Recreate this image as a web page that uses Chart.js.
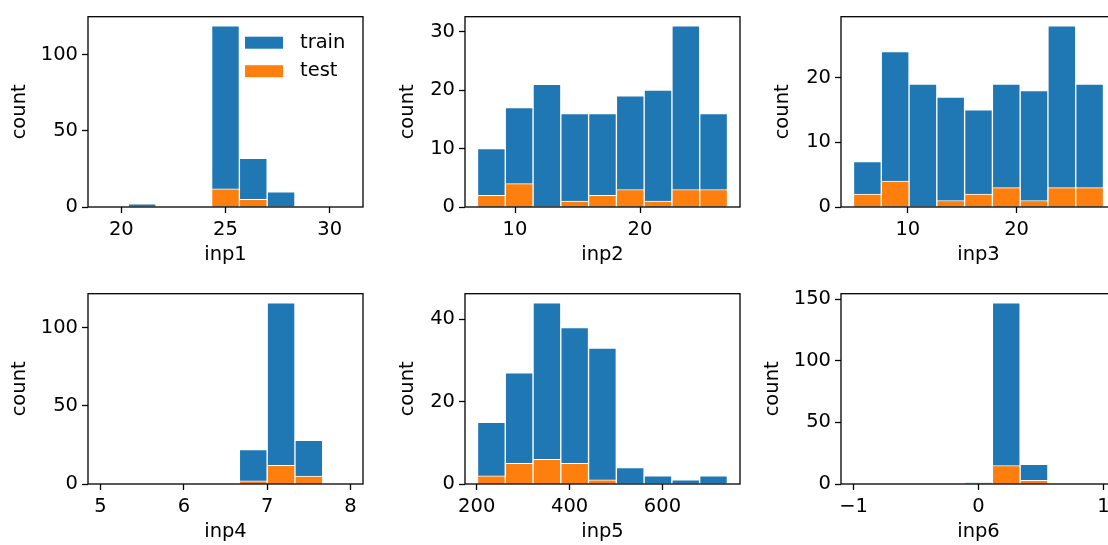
<!DOCTYPE html>
<html>
<head>
<meta charset="utf-8">
<script src="https://cdn.jsdelivr.net/npm/chart.js@4.4.0/dist/chart.umd.min.js"></script>
<style>
  html, body { margin: 0; padding: 0; background: #fff; overflow: hidden; }
  body { width: 1108px; height: 545px; position: relative; }
  .panel { position: absolute; width: 375px; height: 270px; }
</style>
</head>
<body>
<div class="panel" style="left:0px;top:1px"><canvas id="h1"></canvas></div>
<div class="panel" style="left:377px;top:1px"><canvas id="h2"></canvas></div>
<div class="panel" style="left:753px;top:1px"><canvas id="h3"></canvas></div>
<div class="panel" style="left:0px;top:278px"><canvas id="h4"></canvas></div>
<div class="panel" style="left:377px;top:278px"><canvas id="h5"></canvas></div>
<div class="panel" style="left:753px;top:278px"><canvas id="h6"></canvas></div>
<script>
// bin centres, counts per bin, tick labels
var binsInp1 = [19.667, 21, 22.333, 23.667, 25, 26.333, 27.667, 29, 30.333];
var trainInp1 = [0, 2, 0, 0, 119, 32, 10, 0, 0];
var testInp1 = [0, 0, 0, 0, 12, 5, 0, 0, 0];
var xTicksInp1 = [20, 25, 30];
var yTicksInp1 = [0, 50, 100];

var binsInp2 = [8.111, 10.333, 12.556, 14.778, 17, 19.222, 21.444, 23.667, 25.889];
var trainInp2 = [10, 17, 21, 16, 16, 19, 20, 31, 16];
var testInp2 = [2, 4, 0, 1, 2, 3, 1, 3, 3];
var xTicksInp2 = [10, 20];
var yTicksInp2 = [0, 10, 20, 30];

var binsInp3 = [6.278, 8.833, 11.389, 13.944, 16.5, 19.056, 21.611, 24.167, 26.722];
var trainInp3 = [7, 24, 19, 17, 15, 19, 18, 28, 19];
var testInp3 = [2, 4, 0, 1, 2, 3, 1, 3, 3];
var xTicksInp3 = [10, 20];
var yTicksInp3 = [0, 10, 20];

var binsInp4 = [5.167, 5.5, 5.833, 6.167, 6.5, 6.833, 7.167, 7.5, 7.833];
var trainInp4 = [0, 0, 0, 0, 0, 22, 116, 28, 0];
var testInp4 = [0, 0, 0, 0, 0, 2, 12, 5, 0];
var xTicksInp4 = [5, 6, 7, 8];
var yTicksInp4 = [0, 50, 100];

var binsInp5 = [231.6, 291.4, 351.2, 410.9, 470.7, 530.5, 590.3, 650.1, 709.9];
var trainInp5 = [15, 27, 44, 38, 33, 4, 2, 1, 2];
var testInp5 = [2, 5, 6, 5, 1, 0, 0, 0, 0];
var xTicksInp5 = [200, 400, 600];
var yTicksInp5 = [0, 20, 40];

var binsInp6 = [-0.889, -0.667, -0.444, -0.222, 0, 0.222, 0.444, 0.667, 0.889];
var trainInp6 = [0, 0, 0, 0, 1, 147, 16, 0, 0];
var testInp6 = [0, 0, 0, 0, 0, 15, 3, 0, 0];
var xTicksInp6 = [-1, 0, 1];
var yTicksInp6 = [0, 50, 100, 150];

var FONT_SIZE = 19.5;
Chart.defaults.font.family = '"DejaVu Sans", sans-serif';
Chart.defaults.font.size = FONT_SIZE;
Chart.defaults.color = '#000';

// black box round the plot area
var frame = {
  id: 'frame',
  afterDatasetsDraw: function(chart) {
    var ctx = chart.ctx, a = chart.chartArea;
    ctx.save();
    ctx.strokeStyle = '#000';
    ctx.lineWidth = 1.3;
    ctx.strokeRect(a.left, a.top, a.right - a.left, a.bottom - a.top);
    ctx.restore();
  }
};

// legend drawn inside the axes, top right
var innerLegend = {
  id: 'innerLegend',
  afterDraw: function(chart) {
    if (!chart.options.plugins.innerLegend) return;
    var ctx = chart.ctx, a = chart.chartArea;
    ctx.save();
    ctx.font = FONT_SIZE + 'px "DejaVu Sans"';
    ctx.textBaseline = 'middle';
    chart.data.datasets.forEach(function(d, i) {
      var y = a.top + 26 + i * 28.5;
      var x = a.right - 118;
      ctx.fillStyle = d.backgroundColor;
      ctx.fillRect(x, y - 6, 38, 12);
      ctx.fillStyle = '#000';
      ctx.fillText(d.label, x + 55, y);
    });
    ctx.restore();
  }
};

function tickAxis(ticks, fixSize) {
  return {
    grid: { offset: false, drawOnChartArea: false, drawTicks: true, tickLength: 6, tickWidth: 1.3, tickColor: '#000' },
    border: { display: false },
    afterBuildTicks: function(ax) { ax.ticks = ticks.map(function(v) { return { value: v }; }); },
    afterFit: fixSize,
    ticks: {
      autoSkip: false, maxRotation: 0, color: '#000',
      callback: function(v) { return String(v).replace('-', '\u2212'); }
    }
  };
}

function makeHist(id, name, bins, train, test, xTicks, yTicks, xMin, xMax, yGap, legend) {
  var x = tickAxis(xTicks, function(ax) { ax.height = 64; });
  x.type = 'linear';
  x.min = xMin;
  x.max = xMax;
  x.offset = false;
  x.ticks.padding = 5;
  x.title = { display: true, text: name, color: '#000', padding: { top: 0, bottom: 4 } };

  var y = tickAxis(yTicks, function(ax) { ax.width = 88; });
  y.min = 0;
  y.max = Math.max.apply(null, train) * 1.05;
  y.ticks.padding = 4;
  y.title = { display: true, text: 'count', color: '#000', padding: { top: 88 - yGap - FONT_SIZE * 0.6, bottom: 0 } };

  return new Chart(document.getElementById(id), {
    type: 'bar',
    data: {
      datasets: [{
        label: 'train',
        data: bins.map(function(b, i) { return { x: b, y: train[i] }; }),
        backgroundColor: '#1f77b4',
        borderColor: '#ffffff',
        borderWidth: 1,
        order: 2
      }, {
        label: 'test',
        data: bins.map(function(b, i) { return { x: b, y: test[i] }; }),
        backgroundColor: '#ff7f0e',
        borderColor: '#ffffff',
        borderWidth: 1,
        order: 1
      }]
    },
    options: {
      responsive: true,
      maintainAspectRatio: false,
      animation: false,
      grouped: false,
      barPercentage: 1,
      categoryPercentage: 1,
      layout: { padding: { top: 12, right: 12, left: 0, bottom: 0 } },
      scales: { x: x, y: y },
      plugins: { legend: { display: false }, tooltip: { enabled: false }, innerLegend: legend }
    },
    plugins: [frame, innerLegend]
  });
}

makeHist('h1', 'inp1', binsInp1, trainInp1, testInp1, xTicksInp1, yTicksInp1, 18.4, 31.6, 68, true);
makeHist('h2', 'inp2', binsInp2, trainInp2, testInp2, xTicksInp2, yTicksInp2, 6, 28, 56.7, false);
makeHist('h3', 'inp3', binsInp3, trainInp3, testInp3, xTicksInp3, yTicksInp3, 3.85, 29.15, 57.7, false);
makeHist('h4', 'inp4', binsInp4, trainInp4, testInp4, xTicksInp4, yTicksInp4, 4.85, 8.15, 68, false);
makeHist('h5', 'inp5', binsInp5, trainInp5, testInp5, xTicksInp5, yTicksInp5, 174.8, 766.9, 56.7, false);
makeHist('h6', 'inp6', binsInp6, trainInp6, testInp6, xTicksInp6, yTicksInp6, -1.1, 1.1, 68.3, false);
</script>
</body>
</html>
